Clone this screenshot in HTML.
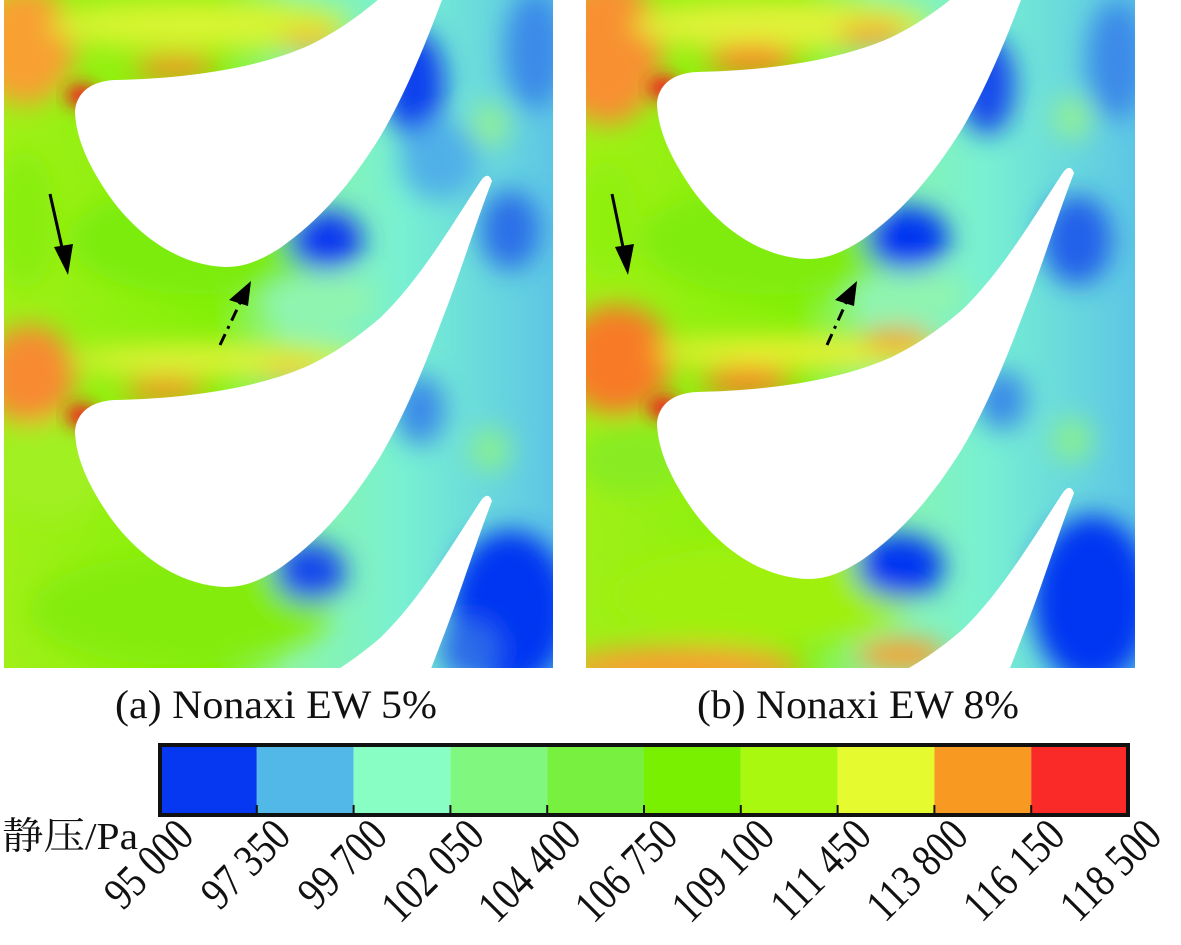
<!DOCTYPE html>
<html><head><meta charset="utf-8"><style>
html,body{margin:0;padding:0;background:#fff;}
svg{display:block;}
text{font-family:"Liberation Serif","Noto Serif CJK SC",serif;fill:#111;}
</style></head><body>
<svg id="fig" width="1181" height="945" viewBox="0 0 1181 945" xmlns="http://www.w3.org/2000/svg">
<defs>
  <filter id="blur" x="-20%" y="-20%" width="140%" height="140%"><feGaussianBlur stdDeviation="13"/></filter>
  <filter id="blur2" x="-30%" y="-30%" width="160%" height="160%"><feGaussianBlur stdDeviation="8"/></filter>
  <clipPath id="clipA"><rect x="4" y="0" width="549" height="668"/></clipPath>
  <linearGradient id="baseG" x1="0" y1="0" x2="1" y2="0">
    <stop offset="0" stop-color="#a0f018"/>
    <stop offset="0.38" stop-color="#84f008"/>
    <stop offset="0.52" stop-color="#8cf5a8"/>
    <stop offset="0.72" stop-color="#78f0d2"/>
    <stop offset="1" stop-color="#5cc4e6"/>
  </linearGradient>
  <path id="blade" d="M75,112 C76,92 92,81 115,80 C170,79 250,72 310,45 C340,30 360,15 380,-2 C420,-40 455,-100 480,-138 Q488,-150 492,-139 C475,-95 458,-40 442,0 C425,45 405,95 380,137 C350,185 320,220 280,248 C255,264 240,267 225,267 C175,265 135,232 110,197 C90,168 76,140 75,112 Z"/>
</defs>

<g id="panelA" clip-path="url(#clipA)">
  <rect x="0" y="0" width="560" height="680" fill="url(#baseG)"/>
  <g filter="url(#blur)">
    <ellipse cx="25" cy="45" rx="50" ry="60" fill="#f8a030"/>
    <ellipse cx="200" cy="25" rx="150" ry="25" fill="#d8f430"/>
    <ellipse cx="175" cy="68" rx="40" ry="12" fill="#f88a28"/>
    <ellipse cx="310" cy="40" rx="30" ry="10" fill="#f8b030"/>
    <ellipse cx="25" cy="220" rx="30" ry="70" fill="#88ee10"/>
    <ellipse cx="200" cy="240" rx="130" ry="55" fill="#7cec08"/>
    <ellipse cx="30" cy="375" rx="45" ry="50" fill="#f88a30"/>
    <ellipse cx="220" cy="360" rx="150" ry="16" fill="#e0f238"/>
    <ellipse cx="165" cy="390" rx="40" ry="12" fill="#f88a28"/>
    <ellipse cx="290" cy="372" rx="30" ry="9" fill="#f8c030"/>
    <ellipse cx="50" cy="470" rx="60" ry="50" fill="#a0f020"/>
    <ellipse cx="180" cy="610" rx="150" ry="55" fill="#84ec08"/>
    <ellipse cx="320" cy="300" rx="55" ry="28" fill="#90f4b0"/>
    <ellipse cx="325" cy="240" rx="38" ry="30" fill="#0838f0"/>
    <ellipse cx="310" cy="572" rx="36" ry="30" fill="#1448ec"/>
    <ellipse cx="415" cy="85" rx="30" ry="55" fill="#0c40ee"/>
    <ellipse cx="535" cy="50" rx="30" ry="60" fill="#3a8ae8"/>
    <ellipse cx="440" cy="160" rx="40" ry="40" fill="#50b0e8"/>
    <ellipse cx="510" cy="230" rx="30" ry="40" fill="#2a70e8"/>
    <ellipse cx="420" cy="410" rx="25" ry="35" fill="#3a8ae8"/>
    <ellipse cx="510" cy="610" rx="60" ry="80" fill="#0634f2"/>
    <ellipse cx="470" cy="650" rx="30" ry="30" fill="#2a6ae8"/>
    <ellipse cx="490" cy="125" rx="20" ry="22" fill="#90f098"/>
    <ellipse cx="490" cy="450" rx="20" ry="22" fill="#88f090"/>
  </g>
  <g filter="url(#blur2)">
    <ellipse cx="82" cy="96" rx="16" ry="12" fill="#f02020"/>
    <ellipse cx="82" cy="416" rx="16" ry="12" fill="#f02020"/>
  </g>
  <g fill="#fff">
    <use href="#blade"/>
    <use href="#blade" y="320"/>
    <use href="#blade" y="640"/>
  </g>
  <g>
    <line x1="50" y1="194" x2="63" y2="252" stroke="#000" stroke-width="3"/>
    <polygon points="68,275 54,247 73,244" fill="#000"/>
  </g>
  <g>
    <line x1="220" y1="345" x2="240" y2="303" stroke="#000" stroke-width="3" stroke-dasharray="12,6,3,6"/>
    <polygon points="251,281 229,300 248,306" fill="#000"/>
  </g>
</g>

<g id="panelB" transform="translate(582,0)">
 <g clip-path="url(#clipA)">
  <rect x="0" y="0" width="560" height="680" fill="url(#baseG)"/>
  <g filter="url(#blur)">
    <ellipse cx="25" cy="50" rx="55" ry="75" fill="#f89030"/>
    <ellipse cx="200" cy="25" rx="150" ry="25" fill="#e0f238"/>
    <ellipse cx="170" cy="60" rx="45" ry="14" fill="#f87a28"/>
    <ellipse cx="290" cy="35" rx="35" ry="12" fill="#f8a030"/>
    <ellipse cx="25" cy="220" rx="30" ry="60" fill="#90f010"/>
    <ellipse cx="190" cy="240" rx="130" ry="55" fill="#80ec08"/>
    <ellipse cx="35" cy="360" rx="55" ry="55" fill="#f87a28"/>
    <ellipse cx="220" cy="352" rx="150" ry="16" fill="#e8f030"/>
    <ellipse cx="165" cy="382" rx="45" ry="14" fill="#f87a28"/>
    <ellipse cx="315" cy="340" rx="35" ry="12" fill="#f8a030"/>
    <ellipse cx="50" cy="460" rx="55" ry="35" fill="#88ec20"/>
    <ellipse cx="180" cy="595" rx="150" ry="50" fill="#a0f010"/>
    <ellipse cx="100" cy="668" rx="120" ry="22" fill="#f8a030"/>
    <ellipse cx="320" cy="655" rx="45" ry="16" fill="#f8a030"/>
    <ellipse cx="330" cy="295" rx="55" ry="25" fill="#90f4b0"/>
    <ellipse cx="325" cy="238" rx="42" ry="32" fill="#0634f2"/>
    <ellipse cx="318" cy="566" rx="44" ry="32" fill="#0634f2"/>
    <ellipse cx="405" cy="85" rx="28" ry="50" fill="#1448ec"/>
    <ellipse cx="535" cy="60" rx="30" ry="60" fill="#3a8ae8"/>
    <ellipse cx="495" cy="240" rx="35" ry="45" fill="#2060ea"/>
    <ellipse cx="420" cy="400" rx="25" ry="30" fill="#3a8ae8"/>
    <ellipse cx="510" cy="600" rx="60" ry="85" fill="#0634f2"/>
    <ellipse cx="490" cy="118" rx="20" ry="22" fill="#90f098"/>
    <ellipse cx="490" cy="440" rx="20" ry="22" fill="#88f090"/>
  </g>
  <g filter="url(#blur2)">
    <ellipse cx="82" cy="88" rx="16" ry="12" fill="#f02020"/>
    <ellipse cx="82" cy="408" rx="16" ry="12" fill="#f02020"/>
  </g>
  <g fill="#fff">
    <use href="#blade" y="-8"/>
    <use href="#blade" y="312"/>
    <use href="#blade" y="632"/>
  </g>
  <g>
    <line x1="30" y1="194" x2="42" y2="252" stroke="#000" stroke-width="3"/>
    <polygon points="46,275 33,247 52,244" fill="#000"/>
  </g>
  <g>
    <line x1="245" y1="345" x2="264" y2="303" stroke="#000" stroke-width="3" stroke-dasharray="12,6,3,6"/>
    <polygon points="275,281 253,300 272,306" fill="#000"/>
  </g>
 </g>
</g>

<text x="115" y="718" font-size="40" textLength="322" lengthAdjust="spacingAndGlyphs">(a) Nonaxi EW 5%</text>
<text x="697" y="718" font-size="40" textLength="322" lengthAdjust="spacingAndGlyphs">(b) Nonaxi EW 8%</text>
<text x="2" y="849" font-size="38" textLength="136" lengthAdjust="spacingAndGlyphs">静压/Pa</text>

<g id="colorbar"></g>
</svg>
<script>
const tickValues = [95000, 97350, 99700, 102050, 104400, 106750, 109100, 111450, 113800, 116150, 118500];
const tickLabels = ["95 000","97 350","99 700","102 050","104 400","106 750","109 100","111 450","113 800","116 150","118 500"];
const binColors = ["#0638f2","#52b8e8","#88fec4","#80f880","#78f040","#78f000","#a8f810","#e6fa30","#f89a22","#fa2a28"];

const NS = "http://www.w3.org/2000/svg";
const cb = document.getElementById("colorbar");
const barX0 = 160, barX1 = 1128, barY0 = 745, barY1 = 815;
const vMin = tickValues[0], vMax = tickValues[tickValues.length - 1];
function xScale(v){ return barX0 + (v - vMin) / (vMax - vMin) * (barX1 - barX0); }

for (let i = 0; i < binColors.length; i++) {
  const r = document.createElementNS(NS, "rect");
  const xa = xScale(tickValues[i]), xb = xScale(tickValues[i + 1]);
  r.setAttribute("x", xa); r.setAttribute("y", barY0);
  r.setAttribute("width", xb - xa); r.setAttribute("height", barY1 - barY0);
  r.setAttribute("fill", binColors[i]);
  
  
  cb.appendChild(r);
}
const frame = document.createElementNS(NS, "rect");
frame.setAttribute("x", barX0); frame.setAttribute("y", barY0);
frame.setAttribute("width", barX1 - barX0); frame.setAttribute("height", barY1 - barY0);
frame.setAttribute("fill", "none"); frame.setAttribute("stroke", "#111"); frame.setAttribute("stroke-width", "4");


cb.appendChild(frame);

for (let i = 0; i < tickValues.length; i++) {
  const x = xScale(tickValues[i]);
  if (i > 0 && i < tickValues.length - 1) {
    const t = document.createElementNS(NS, "line");
    t.setAttribute("x1", x); t.setAttribute("x2", x);
    t.setAttribute("y1", barY1); t.setAttribute("y2", barY1 - 10);
    t.setAttribute("stroke", "#111"); t.setAttribute("stroke-width", "2");
    
    
    cb.appendChild(t);
  }
  const tx = document.createElementNS(NS, "text");
  tx.setAttribute("transform", "translate(" + (x + 36) + "," + 838 + ") rotate(-45) scale(0.82,1)");
  tx.setAttribute("text-anchor", "end");
  tx.setAttribute("font-size", "46");
  tx.textContent = tickLabels[i];
  
  
  cb.appendChild(tx);
}
</script>
</body></html>
